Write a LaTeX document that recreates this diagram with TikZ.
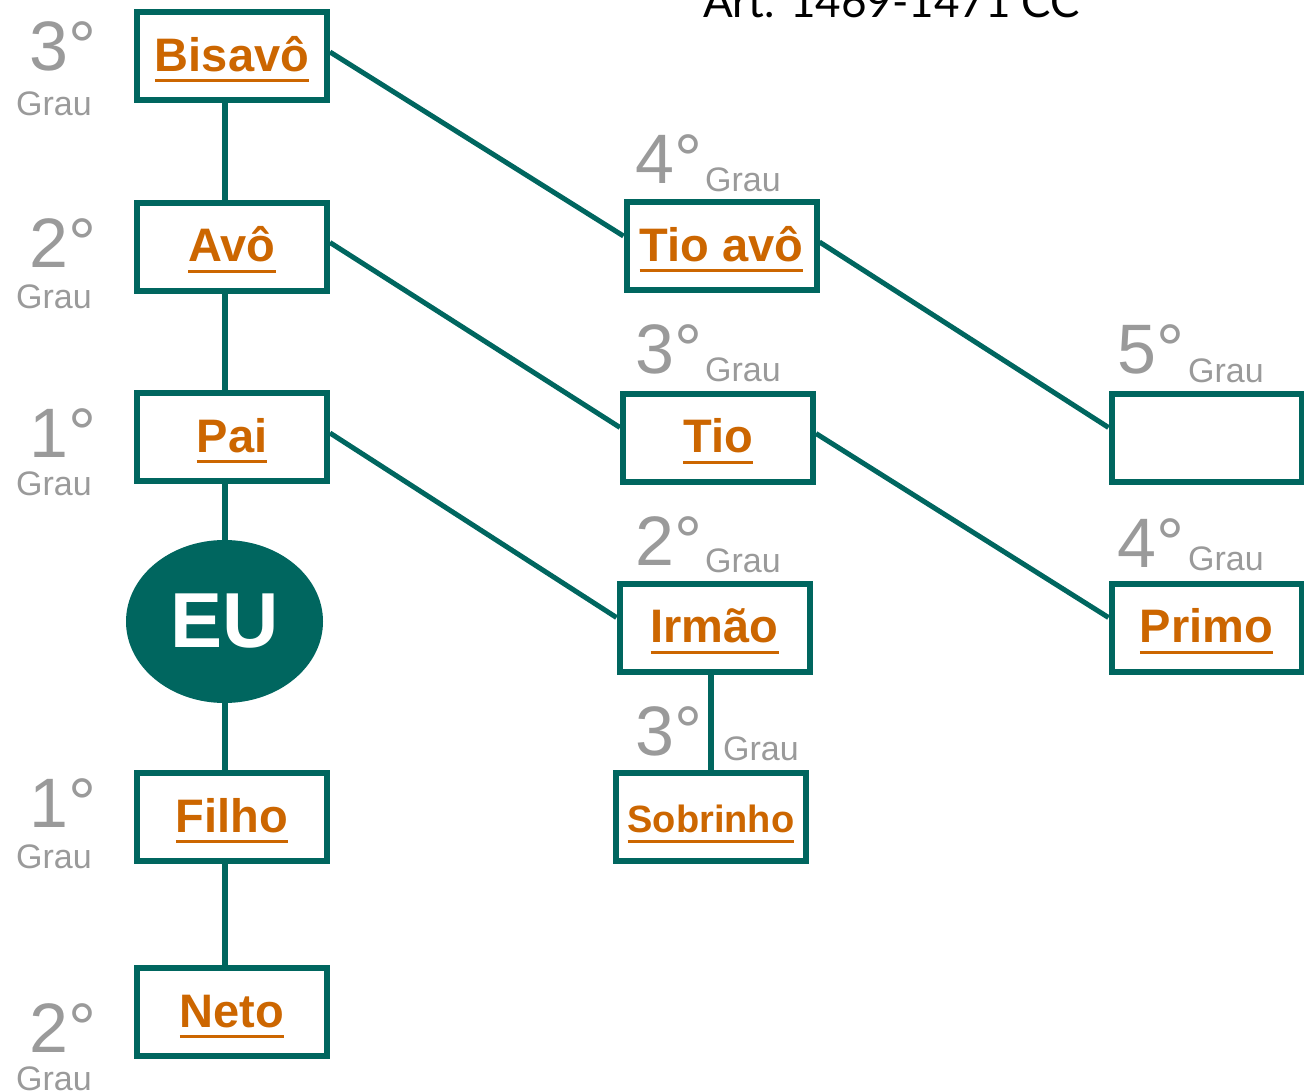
\documentclass[tikz,border=0pt]{standalone}
\usepackage{fontspec}
\setmainfont{Liberation Sans}
\newfontfamily\titlefont{Lato}
\usetikzlibrary{shapes.geometric}

\definecolor{parteal}{HTML}{00665F}
\definecolor{parorange}{HTML}{CC6600}
\definecolor{pargray}{HTML}{9A9A9A}

% underlined box text
\newcommand\ulnk[1]{\setbox0\hbox{#1}\rlap{\rule[-11pt]{\wd0}{3pt}}\box0}

\begin{document}
\begin{tikzpicture}[x=1pt, y=-1pt,
  box/.style={draw=parteal, line width=6pt, fill=white, minimum width=190pt,
    minimum height=88pt, inner sep=0pt, text height=40pt, text depth=10pt,
    text=parorange, font=\fontsize{47}{50}\selectfont\bfseries},
  num/.style={text=pargray, inner sep=0pt, anchor=base east,
    font=\fontsize{70}{70}\selectfont},
  grau/.style={text=pargray, inner sep=0pt, anchor=base west,
    font=\fontsize{34}{34}\selectfont},
  link/.style={draw=parteal, line width=6pt},
  diag/.style={draw=parteal, line width=5pt}]
  \clip (0,0) rectangle (1304,1092);

  % title
  \node[inner sep=0pt, anchor=base west, font=\titlefont\fontsize{44}{44}\selectfont]
    (art) at (703,17) {Art. 1469-1471 CC};

  % boxes
  \foreach \name/\x/\y/\txt in {bisavo/232/56/Bisavô, avo/232/246.5/Avô,
      pai/232/437/Pai, filho/232/817/Filho, neto/232/1012/Neto,
      tioavo/721.5/246/Tio avô, tio/718/437.5/Tio, irmao/714.5/627.5/Irmão,
      primo/1206.5/627.5/Primo} {
    \node[box] (\name) at (\x,\y) {\ulnk{\txt}};
  }
  \node[box, font=\fontsize{38}{40}\selectfont\bfseries] (sobrinho) at (711,817) {\ulnk{Sobrinho}};
  \node[box] (quinto) at (1206.5,437.5) {};

  % me
  \node[ellipse, fill=parteal, minimum width=197pt, minimum height=163pt, inner sep=0pt,
    text=white, font=\fontsize{78}{78}\selectfont\bfseries] (eu) at (224.5,621.5) {EU};

  % degrees
  \foreach \n/\x/\y/\gx/\gy [count=\i] in {3/97/70/16/115, 2/97/267/16/308,
      1/97/457/16/495, 1/97/827/16/868, 2/97/1052/16/1090,
      4/703/183/705/191, 3/703/373/705/381, 2/703/565/705/572, 3/703/755/723/760,
      5/1185/373/1188/382, 4/1185/567/1188/570} {
    \node[num] (num\i) at (\x,\y) {\n°};
    \node[grau] (grau\i) at (\gx,\gy) {Grau};
  }

  % straight line
  \foreach \a/\b in {bisavo/avo, avo/pai, pai/eu, eu/filho, filho/neto} {
    \draw[link] (\a.south -| eu.center) -- (\b.north -| eu.center);
  }
  \draw[link] (irmao.south -| sobrinho.north) -- (sobrinho.north);

  % collateral lines
  \foreach \a/\b in {bisavo/tioavo, avo/tio, pai/irmao, tioavo/quinto, tio/primo} {
    \draw[diag] ([yshift=4pt]\a.east) -- ([yshift=10pt]\b.west);
  }
\end{tikzpicture}
\end{document}
